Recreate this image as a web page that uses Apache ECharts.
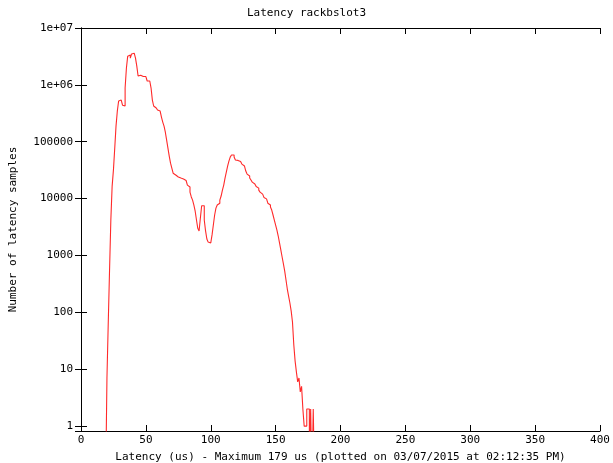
<!DOCTYPE html>
<html>
<head>
<meta charset="utf-8">
<script src="https://cdn.jsdelivr.net/npm/echarts@6/dist/echarts.min.js"></script>
<style>
  html, body { margin: 0; padding: 0; background: #ffffff; }
  #chart { width: 613px; height: 463px; }
</style>
</head>
<body>
<div id="chart"></div>
<script>
// ---- Data ----
const chartTitle = 'Latency rackbslot3';
const xAxisTitle = 'Latency (us) - Maximum 179 us (plotted on 03/07/2015 at 02:12:35 PM)';
const yAxisTitle = 'Number of latency samples';

// latency bins (us), left edge of each 1-us bin
const latencyBins = [
  19, 20, 21, 22, 23, 24, 25, 26, 27, 28, 29,
  30, 31, 32, 33, 34, 35, 36, 37, 38, 39,
  40, 41, 42, 43, 44, 45, 46, 47, 48, 49,
  50, 51, 52, 53, 54, 55, 56, 57, 58, 59,
  60, 61, 62, 63, 64, 65, 66, 67, 68, 69,
  70, 71, 72, 73, 74, 75, 76, 77, 78, 79,
  80, 81, 82, 83, 84, 85, 86, 87, 88, 89,
  90, 91, 92, 93, 94, 95, 96, 97, 98, 99,
  100, 101, 102, 103, 104, 105, 106, 107, 108, 109,
  110, 111, 112, 113, 114, 115, 116, 117, 118, 119,
  120, 121, 122, 123, 124, 125, 126, 127, 128, 129,
  130, 131, 132, 133, 134, 135, 136, 137, 138, 139,
  140, 141, 142, 143, 144, 145, 146, 147, 148, 149,
  150, 151, 152, 153, 154, 155, 156, 157, 158, 159,
  160, 161, 162, 163, 164, 165, 166, 167, 168, 169,
  170, 171, 172, 173, 174, 175, 176, 177, 178, 179, 180
];

// number of samples per bin
const sampleCounts = [
  0, 7, 65, 550, 4200, 16600, 32000, 77000, 190000, 347000, 520000,
  540000, 520000, 440000, 425000, 880000, 1980000, 3200000, 3350000, 2950000, 3500000,
  3600000, 3600000, 2950000, 2140000, 1430000, 1480000, 1480000, 1400000, 1350000, 1400000,
  1300000, 1170000, 1170000, 1080000, 880000, 540000, 425000, 392000, 376000, 361000,
  346000, 333000, 271000, 222000, 188000, 147000, 107000, 77000, 56000, 42000,
  34500, 28000, 26000, 24500, 24000, 23500, 23000, 22500, 22100, 21500,
  20800, 19500, 17300, 16000, 13000, 10700, 9400, 7700, 6000, 4200,
  3000, 2700, 4550, 7500, 7500, 4200, 2700, 1950, 1720, 1660,
  1660, 2300, 3430, 5150, 6800, 7700, 8300, 9400, 11100, 14100,
  17300, 23000, 29300, 37400, 45700, 53700, 58300, 58300, 53700, 47800,
  47000, 45700, 45000, 44000, 40500, 37400, 34500, 30500, 27000, 25000,
  23000, 21200, 19500, 18100, 17300, 16300, 15300, 14100, 13000, 12000,
  11100, 10500, 9900, 9400, 8300, 7700, 7100, 6300, 5150, 4200,
  3430, 2800, 2200, 1660, 1250, 940, 710, 530, 370, 257,
  193, 146, 105, 67, 27, 14, 9, 6, 7, 4,
  5, 2, 1, 1, 2, 2, 0, 2, 0, 2, 0
];

// y tick labels as printed on the reference
const yTickValues = [1, 10, 100, 1000, 10000, 100000, 1000000, 10000000];
const yTickLabels = ['1', '10', '100', '1000', '10000', '100000', '1e+06', '1e+07'];

// ---- Chart ----
const FONT = 'DejaVu Sans Mono';
const FLOOR = 0.1; // empty bins are drawn below the log-axis floor (clipped away)

const seriesData = latencyBins.map((b, i) => [b, sampleCounts[i] > 0 ? sampleCounts[i] : FLOOR]);

function yLabel(v) {
  for (let i = 0; i < yTickValues.length; i++) {
    if (Math.abs(Math.log10(v) - Math.log10(yTickValues[i])) < 1e-6) return yTickLabels[i];
  }
  return '';
}

const axisLineStyle = { color: '#000000', width: 1 };
const chart = echarts.init(document.getElementById('chart'), null, { renderer: 'canvas' });
chart.setOption({
  animation: false,
  backgroundColor: '#ffffff',
  title: {
    text: chartTitle,
    left: 'center',
    top: 3,
    textStyle: { fontFamily: FONT, fontSize: 11, fontWeight: 'normal', color: '#000' }
  },
  grid: { left: 81, right: 13, top: 28, bottom: 32, containLabel: false, outerBoundsMode: 'none' },
  xAxis: [
    {
      type: 'value', position: 'bottom', min: 0, max: 400, interval: 50,
      name: xAxisTitle, nameLocation: 'middle', nameGap: 21,
      nameTextStyle: { fontFamily: FONT, fontSize: 11, color: '#000' },
      axisLine: { show: true, lineStyle: axisLineStyle },
      axisTick: { show: true, inside: true, length: 6, lineStyle: axisLineStyle },
      axisLabel: { fontFamily: FONT, fontSize: 11, color: '#000', margin: 4 },
      splitLine: { show: false }
    },
    {
      type: 'value', position: 'top', min: 0, max: 400, interval: 50,
      axisLine: { show: true, lineStyle: axisLineStyle },
      axisTick: { show: true, inside: true, length: 6, lineStyle: axisLineStyle },
      axisLabel: { show: false },
      splitLine: { show: false }
    }
  ],
  yAxis: [
    {
      type: 'log', logBase: 10, position: 'left', min: 0.82, max: 10000000,
      name: yAxisTitle, nameLocation: 'middle', nameGap: 62, nameRotate: 90,
      nameTextStyle: { fontFamily: FONT, fontSize: 11, color: '#000' },
      axisLine: { show: true, lineStyle: axisLineStyle },
      axisTick: { show: true, inside: true, length: 6, lineStyle: axisLineStyle },
      axisLabel: { fontFamily: FONT, fontSize: 11, color: '#000', margin: 8, showMinLabel: false, formatter: yLabel },
      splitLine: { show: false }
    },
    {
      type: 'log', logBase: 10, position: 'right', min: 0.82, max: 10000000,
      axisLine: { show: true, lineStyle: axisLineStyle },
      axisTick: { show: true, inside: true, length: 6, lineStyle: axisLineStyle },
      axisLabel: { show: false },
      splitLine: { show: false }
    }
  ],
  series: [
    {
      type: 'line',
      xAxisIndex: 0,
      yAxisIndex: 0,
      step: 'end',
      data: seriesData,
      showSymbol: false,
      symbol: 'none',
      clip: true,
      lineStyle: { color: '#ff2a2a', width: 1.1 }
    }
  ]
});
</script>
</body>
</html>
